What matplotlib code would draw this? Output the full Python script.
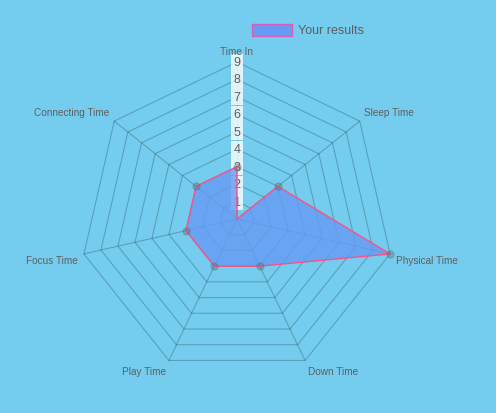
import numpy as np
import matplotlib.pyplot as plt
from matplotlib.patches import Rectangle

# data
labels = ['Time In', 'Sleep Time', 'Physical Time', 'Down Time',
          'Play Time', 'Focus Time', 'Connecting Time']
scores = [3, 3, 9, 3, 3, 3, 3]
ticks = [1, 2, 3, 4, 5, 6, 7, 8, 9]
series_name = 'Your results'

bg = '#74cdee'
grid_col = (0, 0, 0, 0.22)
txt_col = '#5f5f5f'
fill_col = '#669af4'
line_col = '#ff4f86'

plt.rcParams['font.family'] = ['Liberation Sans', 'DejaVu Sans']

W, H = 496, 414
cx, cy = 237, 220          # centre in pixels
u = 157 / max(ticks)       # pixels per unit

fig = plt.figure(figsize=(W / 100, H / 100), dpi=100, facecolor=bg)
ax = fig.add_axes([0, 0, 1, 1])
ax.set_xlim(-cx / u, (W - cx) / u)
ax.set_ylim(-(H - cy) / u, cy / u)
ax.axis('off')

n = len(labels)
theta = np.arange(n) * 2 * np.pi / n
sx, sy = np.sin(theta), np.cos(theta)

# polygon grid
for t in ticks:
    ax.plot(np.append(sx, sx[0]) * t, np.append(sy, sy[0]) * t,
            color=grid_col, lw=0.8, zorder=1)
rmax = max(ticks)
for i in range(n):
    ax.plot([0, sx[i] * rmax], [0, sy[i] * rmax], color=grid_col, lw=0.8, zorder=1)

# tick labels with white backdrop
for t in ticks:
    ax.text(0, t, str(t), ha='center', va='center', fontsize=9, color=txt_col,
            zorder=2, bbox=dict(boxstyle='square,pad=0.2', fc='white', ec='none', alpha=0.8))

# point labels
pad = 6 / u
for i, lab in enumerate(labels):
    x, y = sx[i] * (rmax + pad), sy[i] * (rmax + pad)
    ha = 'left' if sx[i] > 0.01 else ('right' if sx[i] < -0.01 else 'center')
    va = 'bottom' if sy[i] > 0 else 'top'
    ax.text(x, y, lab, ha=ha, va=va, fontsize=7.2, color=txt_col, zorder=2)

# dataset: outline dips to the centre right after the first point
r = np.array(scores, dtype=float)
px = np.concatenate([[sx[0] * r[0], 0], sx[1:] * r[1:]])
py = np.concatenate([[sy[0] * r[0], 0], sy[1:] * r[1:]])
ax.fill(px, py, color=fill_col, alpha=0.8, lw=0, zorder=3)
ax.plot(np.append(px, px[0]), np.append(py, py[0]), color=line_col, lw=1, zorder=4)
ax.plot(sx * r, sy * r, 'o', ms=5, mfc=(0.4, 0.4, 0.4, 0.35),
        mec=(0.4, 0.4, 0.4, 0.35), zorder=5)

# legend
ax.add_patch(Rectangle((252 / W, 1 - 37 / H), 40 / W, 12 / H, transform=ax.transAxes,
                       fc=fill_col, ec='#d85fb8', lw=1, zorder=6))
ax.text(298 / W, 1 - 31.5 / H, series_name, transform=ax.transAxes, ha='left',
        va='center', fontsize=9, color=txt_col, zorder=6)

fig.savefig('out.png', dpi=100, facecolor=bg)
